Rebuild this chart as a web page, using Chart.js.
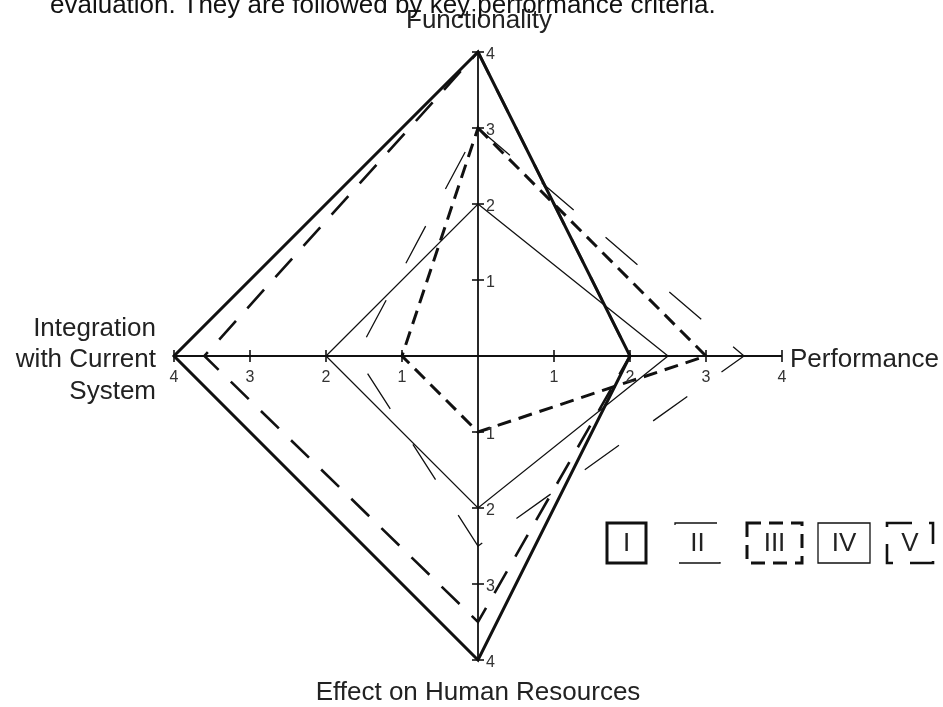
<!DOCTYPE html>
<html>
<head>
<meta charset="utf-8">
<script src="https://cdn.jsdelivr.net/npm/chart.js@4.4.1/dist/chart.umd.min.js"></script>
<style>
  body { margin: 0; background: #fff; }
  #wrap { position: relative; width: 943px; height: 707px; overflow: hidden; }
  #caption { position: absolute; left: 50px; top: -9px; font: 26px "Liberation Sans", Arial, sans-serif; color: #111; white-space: nowrap; line-height: 26px; }
  canvas { position: absolute; left: 0; top: 0; }
</style>
</head>
<body>
<div id="wrap">
  <canvas id="radar" width="943" height="707"></canvas>
  <div id="caption">evaluation. They are followed by key performance criteria.</div>
</div>
<script>
// axes, clockwise from the top
const categories = ["Functionality", "Performance", "Effect on Human Resources", ["Integration", "with Current", "System"]];
const tickValues = [1, 2, 3, 4];
const seriesNames = ["I", "II", "III", "IV", "V"];
const seriesI = [4, 2, 4, 4];
const seriesII = [3, 3.5, 2.5, 1.6];
const seriesIII = [3, 3, 1, 1];
const seriesIV = [2, 2.5, 2, 2];
const seriesV = [4, 2, 3.5, 3.6];

const FONT = '"Liberation Sans", Arial, sans-serif';
const INK = "#111";

// tick marks + numbers on all four axes, and the axis names
const axisMarks = {
  id: "axisMarks",
  afterDatasetsDraw(chart) {
    const r = chart.scales.r;
    const ctx = chart.ctx;
    ctx.save();
    ctx.strokeStyle = INK;
    ctx.lineWidth = 1.6;
    ctx.fillStyle = "#333";
    ctx.font = "16px " + FONT;
    chart.data.labels.forEach((lab, i) => {
      const vertical = i % 2 === 0;
      tickValues.forEach((v) => {
        const p = r.getPointPositionForValue(i, v);
        ctx.beginPath();
        if (vertical) {
          ctx.moveTo(p.x - 6, p.y);
          ctx.lineTo(p.x + 6, p.y);
        } else {
          ctx.moveTo(p.x, p.y - 6);
          ctx.lineTo(p.x, p.y + 6);
        }
        ctx.stroke();
        ctx.textBaseline = "middle";
        if (vertical) {
          ctx.textAlign = "left";
          ctx.fillText(String(v), p.x + 8, p.y + 3);
        } else {
          ctx.textAlign = "center";
          ctx.fillText(String(v), p.x, p.y + 22);
        }
      });
    });

    // axis names
    ctx.font = "26px " + FONT;
    ctx.fillStyle = "#222";
    ctx.textBaseline = "alphabetic";
    const top = r.getPointPositionForValue(0, 4);
    ctx.textAlign = "center";
    ctx.fillText(chart.data.labels[0], top.x + 1, top.y - 24);
    const right = r.getPointPositionForValue(1, 4);
    ctx.textAlign = "left";
    ctx.fillText(chart.data.labels[1], right.x + 8, right.y + 11);
    const bottom = r.getPointPositionForValue(2, 4);
    ctx.textAlign = "center";
    ctx.fillText(chart.data.labels[2], bottom.x, bottom.y + 40);
    const left = r.getPointPositionForValue(3, 4);
    ctx.textAlign = "right";
    chart.data.labels[3].forEach((line, k) => {
      ctx.fillText(line, left.x - 18, left.y + 11 + (k - 1) * 31.5);
    });
    ctx.restore();
  },
};

// boxed roman numerals, each box drawn in its series' line style
const boxLegend = {
  id: "boxLegend",
  afterDraw(chart) {
    const ctx = chart.ctx;
    const boxes = [[607, 39], [675, 45], [747, 55], [818, 52], [887, 46]];
    const y = 523, h = 40;
    ctx.save();
    chart.data.datasets.forEach((ds, k) => {
      const [x, w] = boxes[k];
      ctx.strokeStyle = ds.borderColor;
      ctx.lineWidth = ds.borderWidth;
      ctx.setLineDash(ds.borderDash || []);
      ctx.beginPath();
      ctx.moveTo(x, y);
      ctx.lineTo(x + w, y);
      ctx.lineTo(x + w, y + h);
      ctx.lineTo(x, y + h);
      ctx.closePath();
      ctx.stroke();
      ctx.setLineDash([]);
      ctx.fillStyle = "#222";
      ctx.font = "26px " + FONT;
      ctx.textAlign = "center";
      ctx.textBaseline = "middle";
      ctx.fillText(ds.label, x + w / 2, y + h / 2 + 1);
    });
    ctx.restore();
  },
};

const chart = new Chart(document.getElementById("radar"), {
  type: "radar",
  data: {
    labels: categories,
    datasets: [
      { label: seriesNames[0], data: seriesI, borderColor: INK, borderWidth: 3, borderDash: [] },
      { label: seriesNames[1], data: seriesII, borderColor: INK, borderWidth: 1.3, borderDash: [42, 42] },
      { label: seriesNames[2], data: seriesIII, borderColor: INK, borderWidth: 3, borderDash: [14, 8] },
      { label: seriesNames[3], data: seriesIV, borderColor: INK, borderWidth: 1.3, borderDash: [] },
      { label: seriesNames[4], data: seriesV, borderColor: INK, borderWidth: 2.6, borderDash: [25, 17] },
    ],
  },
  options: {
    responsive: false,
    animation: false,
    layout: { padding: { left: 174, right: 161, top: 52, bottom: 47 } },
    elements: {
      point: { radius: 0, hoverRadius: 0 },
      line: { tension: 0, fill: false, borderJoinStyle: "miter" },
    },
    plugins: {
      legend: { display: false },
      tooltip: { enabled: false },
    },
    scales: {
      r: {
        min: 0,
        max: 4,
        ticks: { display: false, stepSize: 1 },
        grid: { display: false },
        angleLines: { display: true, color: INK, lineWidth: 1.8 },
        pointLabels: { display: false },
      },
    },
  },
  plugins: [axisMarks, boxLegend],
});
</script>
</body>
</html>
